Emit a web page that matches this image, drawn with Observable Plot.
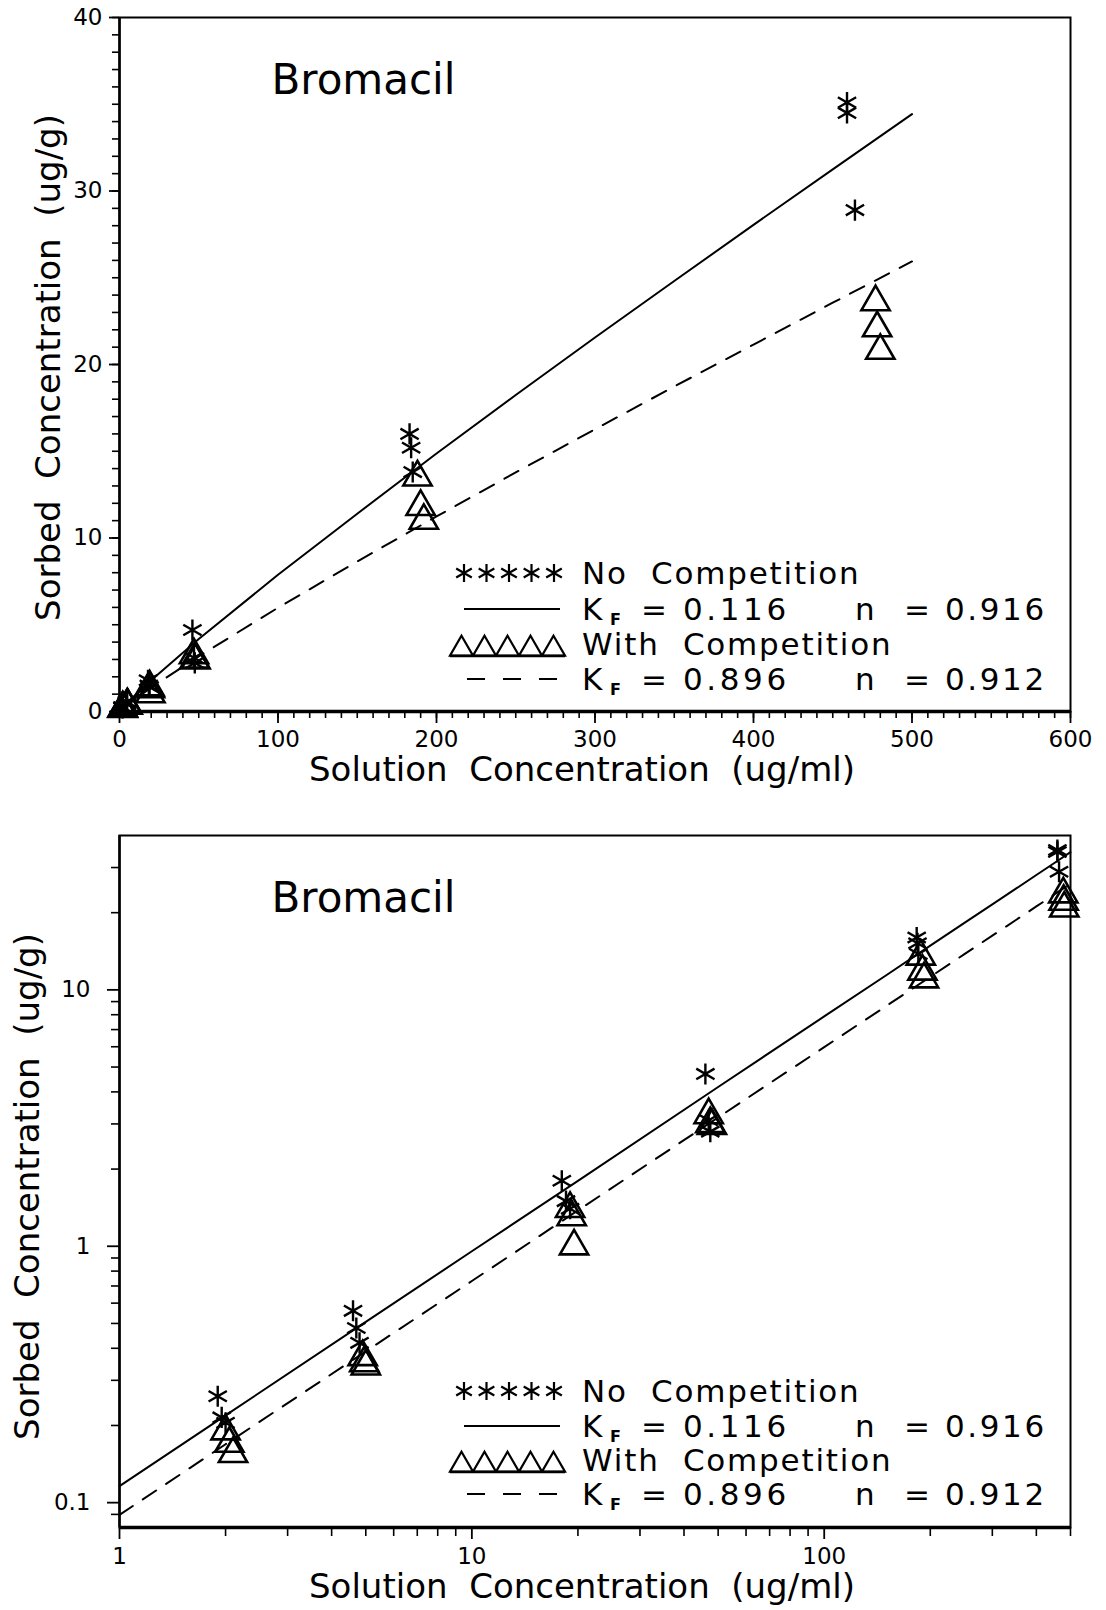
<!DOCTYPE html>
<html><head><meta charset="utf-8">
<script src="https://cdn.jsdelivr.net/npm/d3@7"></script>
<script src="https://cdn.jsdelivr.net/npm/@observablehq/plot@0.6"></script>
<style>
body{margin:0;background:#fff;}
#chart{width:1106px;}
#chart svg{display:block;}
svg text{white-space:pre;}
</style></head><body><div id="chart"></div>
<script>
// ---- data ----
const noCompX = [1.9, 1.95, 2.0, 4.6, 4.7, 4.8, 18.0, 18.5, 19.0, 46, 47, 47.5, 183, 184, 185, 459, 459, 464];
const noCompY = [0.26, 0.215, 0.205, 0.56, 0.48, 0.42, 1.8, 1.5, 1.4, 4.7, 3.1, 2.8, 16.0, 15.2, 13.8, 35.1, 34.5, 28.9];
const withCompX = [2.0, 2.05, 2.1, 4.9, 4.95, 5.0, 19.0, 19.2, 19.5, 47, 47.5, 48, 188, 190, 192, 477, 478, 480];
const withCompY = [0.19, 0.17, 0.155, 0.37, 0.35, 0.34, 1.4, 1.3, 1.0, 3.25, 3.0, 2.95, 13.5, 11.8, 11.0, 23.6, 22.1, 20.8];
const fitX = [1, 2, 5, 10, 20, 50, 100, 150, 200, 250, 300, 350, 400, 450, 500];
const fitNoCompY = [0.116, 0.219, 0.507, 0.956, 1.80, 4.18, 7.88, 11.4, 14.87, 18.24, 21.56, 24.81, 28.05, 31.25, 34.43];
const fitWithCompY = [0.0896, 0.169, 0.389, 0.732, 1.38, 3.18, 5.98, 8.65, 11.24, 13.78, 16.27, 18.73, 21.15, 23.56, 25.94];

const chartTitle = "Bromacil";
const xTitle = "Solution  Concentration  (ug/ml)";
const yTitle = "Sorbed  Concentration  (ug/g)";
const seriesNames = ["No  Competition", "With  Competition"];
const kfValues = ["0.116", "0.896"];
const nValues = ["0.916", "0.912"];

// ticks
const linXMajor = [0, 100, 200, 300, 400, 500, 600];
const linXMinor = d3.range(0, 601, 10);
const linYMajor = [0, 10, 20, 30, 40];
const linYMinor = d3.range(0, 41, 1);
const logXMajor = [1, 10, 100];
const logXMinor = [2,3,4,5,6,7,8,9,20,30,40,50,60,70,80,90,200,300,400,500];
const logYMajor = [0.1, 1, 10];
const logYMinor = [0.09,0.2,0.3,0.4,0.5,0.6,0.7,0.8,0.9,2,3,4,5,6,7,8,9,20,30];

const FONT = "DejaVu Sans";

function legendMark(rows) {
  return (index, scales, values, dims) => {
    const L = dims.marginLeft, B = dims.height - dims.marginBottom;
    const g = d3.create("svg:g").attr("font-family", FONT).attr("text-anchor", "start").attr("fill", "black");
    const ry = rows.map(o => B + o);
    const ast = d3.symbol(d3.symbolAsterisk, 230)();
    for (let i = 0; i < 5; i++)
      g.append("path").attr("d", ast).attr("fill", "none").attr("stroke", "black").attr("stroke-width", 2.2)
        .attr("transform", `translate(${L + 345 + i * 22.5},${ry[0]})`);
    g.append("line").attr("x1", L + 345).attr("x2", L + 441).attr("y1", ry[1]).attr("y2", ry[1])
      .attr("stroke", "black").attr("stroke-width", 2.2);
    const tri = d3.symbol(d3.symbolTriangle2, 380)();
    for (let i = 0; i < 5; i++)
      g.append("path").attr("d", tri).attr("fill", "none").attr("stroke", "black").attr("stroke-width", 2.2)
        .attr("transform", `translate(${L + 342.5 + i * 23},${ry[2] + 5})`);
    g.append("line").attr("x1", L + 331).attr("x2", L + 446).attr("y1", ry[2] + 12).attr("y2", ry[2] + 12)
      .attr("stroke", "black").attr("stroke-width", 2.5);
    g.append("line").attr("x1", L + 348).attr("x2", L + 440).attr("y1", ry[3]).attr("y2", ry[3])
      .attr("stroke", "black").attr("stroke-width", 2.2).attr("stroke-dasharray", "18,18");
    const fs = 31, base = 0.36 * fs;
    const put = (x, y, s, size = fs, ls = 1.2, extra = {}) => {
      const t = g.append("text").attr("x", L + x).attr("y", y).attr("font-size", size).attr("letter-spacing", ls).text(s);
      for (const k in extra) t.attr(k, extra[k]);
    };
    [0, 1].forEach(k => {
      put(463, ry[2 * k] + base, seriesNames[k], fs, 1.8);
      const yb = ry[2 * k + 1] + base;
      put(463, yb, "K");
      put(491, yb + 5, "F", 16, 0, {"font-weight": "bold"});
      put(522, yb, "=");
      put(564, yb, kfValues[k], fs, 3.6);
      put(736, yb, "n");
      put(785, yb, "=");
      put(826, yb, nValues[k], fs, 2.6);
    });
    return g.node();
  };
}

function commonMarks(opts) {
  return [
    Plot.text([chartTitle], {frameAnchor: "top-left", dx: 152, dy: 63, textAnchor: "start", lineAnchor: "middle", fontSize: 42, letterSpacing: 1.5}),
    Plot.text([xTitle], {frameAnchor: "bottom", dx: -13, dy: opts.xTitleDy, textAnchor: "middle", lineAnchor: "middle", fontSize: 34, letterSpacing: 2.6}),
    Plot.text([yTitle], {frameAnchor: "left", dx: opts.yTitleDx, dy: opts.yTitleDy, rotate: -90, textAnchor: "middle", lineAnchor: "middle", fontSize: 34, letterSpacing: 2.3}),
    Plot.line(fitX, {x: fitX, y: fitNoCompY, stroke: "black", strokeWidth: 2}),
    Plot.line(fitX, {x: fitX, y: fitWithCompY, stroke: "black", strokeWidth: 2, strokeDasharray: "16,12"}),
    Plot.dot(noCompX, {x: noCompX, y: noCompY, symbol: "asterisk", r: 10, stroke: "black", strokeWidth: 2.4}),
    Plot.dot(withCompX, {x: withCompX, y: withCompY, symbol: "triangle", r: 10.5, stroke: "black", strokeWidth: 2.6, fill: "none"}),
    legendMark(opts.legendRows)
  ];
}

const topChart = Plot.plot({
  width: 1106, height: 790,
  marginLeft: 119, marginRight: 36, marginTop: 17, marginBottom: 79,
  style: {fontFamily: FONT, color: "black", background: "white"},
  x: {domain: [0, 600], axis: null},
  y: {domain: [0, 40], axis: null},
  marks: [
    Plot.frame({stroke: "black", strokeWidth: 2}),
    Plot.ruleY([0], {stroke: "black", strokeWidth: 3.5}),
    Plot.ruleX([0], {stroke: "black", strokeWidth: 2.5}),
    Plot.axisX(linXMinor, {tickSize: 7, strokeWidth: 1.6, tickFormat: () => "", label: null}),
    Plot.axisX(linXMajor, {tickSize: 12, strokeWidth: 1.8, tickPadding: 7, fontSize: 23, label: null}),
    Plot.axisY(linYMinor, {tickSize: 7, strokeWidth: 1.6, tickFormat: () => "", label: null}),
    Plot.axisY(linYMajor, {tickSize: 10, strokeWidth: 1.8, tickPadding: 7, fontSize: 23, label: null}),
    ...commonMarks({xTitleDy: 59, yTitleDx: -70, yTitleDy: 3, legendRows: [-138, -102, -67, -32]})
  ]
});

const bottomChart = Plot.plot({
  width: 1106, height: 820,
  marginLeft: 119, marginRight: 36, marginTop: 45, marginBottom: 83,
  style: {fontFamily: FONT, color: "black", background: "white"},
  x: {type: "log", domain: [1, 500], axis: null},
  y: {type: "log", domain: [0.08, 40], axis: null},
  marks: [
    Plot.frame({stroke: "black", strokeWidth: 2}),
    Plot.ruleY([0.08], {stroke: "black", strokeWidth: 3.5}),
    Plot.ruleX([1], {stroke: "black", strokeWidth: 2.5}),
    Plot.axisX(logXMinor, {tickSize: 9, strokeWidth: 1.6, tickFormat: () => "", label: null}),
    Plot.axisX(logXMajor, {tickSize: 12, strokeWidth: 1.8, tickPadding: 8, fontSize: 23, tickFormat: d => String(d), label: null}),
    Plot.axisY(logYMinor, {tickSize: 8, strokeWidth: 1.6, tickFormat: () => "", label: null}),
    Plot.axisY(logYMajor, {tickSize: 12, strokeWidth: 1.8, tickPadding: 17, fontSize: 23, tickFormat: d => String(d), label: null}),
    ...commonMarks({xTitleDy: 60, yTitleDx: -91, yTitleDy: 5, legendRows: [-136, -101, -67, -33]})
  ]
});

document.getElementById("chart").append(topChart, bottomChart);
</script>
</body></html>
